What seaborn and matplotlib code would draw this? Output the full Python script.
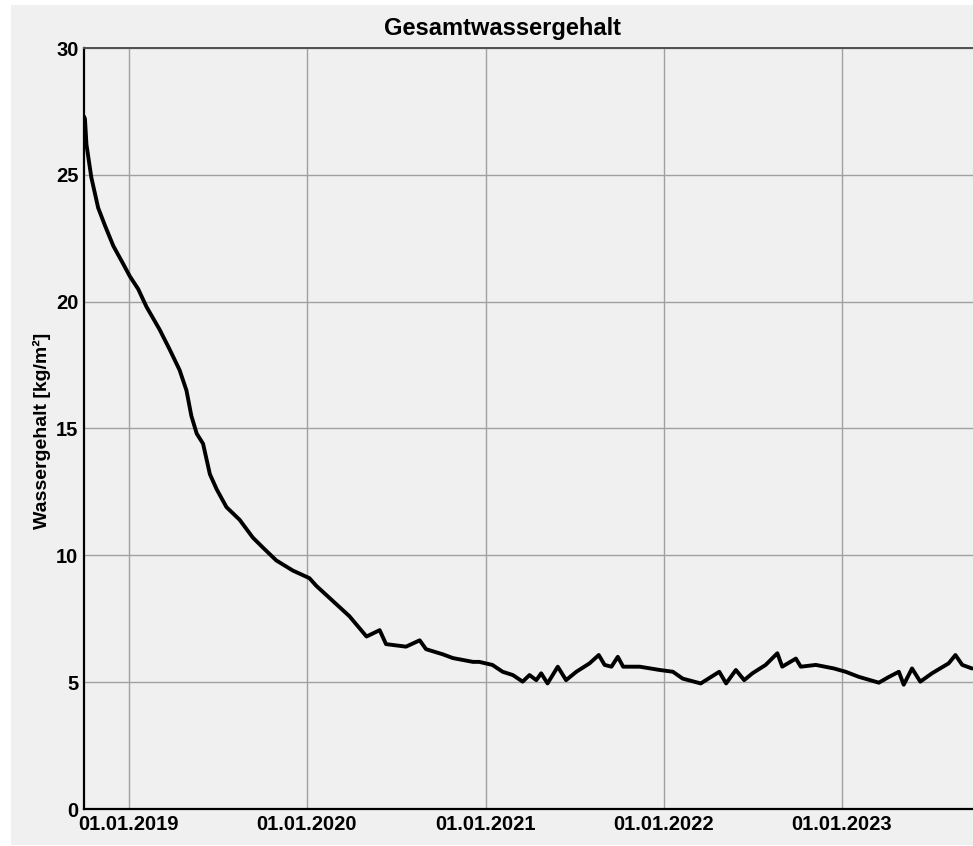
import matplotlib
matplotlib.use("Agg")
import matplotlib.dates as mdates
import matplotlib.pyplot as plt
import pandas as pd
import seaborn as sns
from matplotlib.patches import Rectangle

# values
dates = [
    "2018-10-01", "2018-10-03", "2018-10-06", "2018-10-16", "2018-10-30", "2018-11-13",
    "2018-11-30", "2018-12-20", "2019-01-03", "2019-01-20", "2019-02-06", "2019-03-05",
    "2019-03-26", "2019-04-15", "2019-04-29", "2019-05-09", "2019-05-20", "2019-06-02",
    "2019-06-16", "2019-06-30", "2019-07-20", "2019-08-16", "2019-09-12", "2019-10-03",
    "2019-10-30", "2019-12-03", "2020-01-06", "2020-01-20", "2020-02-23", "2020-03-28",
    "2020-05-02", "2020-05-29", "2020-06-11", "2020-07-22", "2020-08-19", "2020-09-01",
    "2020-10-05", "2020-10-26", "2020-12-06", "2020-12-19", "2021-01-15", "2021-02-05",
    "2021-02-26", "2021-03-18", "2021-04-01", "2021-04-15", "2021-04-25", "2021-05-08",
    "2021-05-29", "2021-06-15", "2021-07-06", "2021-08-02", "2021-08-21", "2021-09-02",
    "2021-09-16", "2021-09-29", "2021-10-10", "2021-11-13", "2021-12-24", "2022-01-20",
    "2022-02-09", "2022-03-18", "2022-04-25", "2022-05-09", "2022-05-29", "2022-06-15",
    "2022-07-02", "2022-07-29", "2022-08-22", "2022-09-01", "2022-09-29", "2022-10-09",
    "2022-11-09", "2022-12-16", "2023-01-09", "2023-02-05", "2023-03-18", "2023-04-08",
    "2023-04-28", "2023-05-08", "2023-05-25", "2023-06-11", "2023-07-05", "2023-08-08",
    "2023-08-22", "2023-09-05", "2023-09-25",
]
water_content = [
    27.3, 27.2, 26.2, 24.9, 23.7, 23.0,
    22.2, 21.5, 21.0, 20.5, 19.8, 18.9,
    18.1, 17.3, 16.5, 15.5, 14.8, 14.4,
    13.2, 12.6, 11.9, 11.4, 10.7, 10.3,
    9.8, 9.4, 9.1, 8.8, 8.2, 7.6,
    6.8, 7.05, 6.5, 6.4, 6.65, 6.3,
    6.1, 5.95, 5.8, 5.8, 5.68, 5.41,
    5.28, 5.02, 5.28, 5.08, 5.35, 4.95,
    5.61, 5.08, 5.41, 5.74, 6.07, 5.68,
    5.61, 6.0, 5.61, 5.61, 5.48, 5.41,
    5.14, 4.95, 5.41, 4.95, 5.48, 5.08,
    5.35, 5.68, 6.14, 5.61, 5.93, 5.61,
    5.68, 5.54, 5.41, 5.21, 4.98, 5.21,
    5.41, 4.9, 5.54, 5.02, 5.35, 5.74,
    6.07, 5.68, 5.54,
]
year_ticks = ["2019-01-01", "2020-01-01", "2021-01-01", "2022-01-01", "2023-01-01"]
y_ticks = [0, 5, 10, 15, 20, 25, 30]

df = pd.DataFrame({"Datum": pd.to_datetime(dates), "Wassergehalt": water_content})

sns.set_theme(style="white")
plt.rcParams["font.family"] = ["Liberation Sans", "DejaVu Sans"]
plt.rcParams["font.weight"] = "bold"
plt.rcParams["text.color"] = "black"
plt.rcParams["xtick.color"] = "black"
plt.rcParams["ytick.color"] = "black"

W, H = 973, 846
fig = plt.figure(figsize=(W / 100, H / 100), dpi=100, facecolor="white")
fig.patches.append(Rectangle((11 / W, 1 / H), 1 - 11 / W, (H - 6) / H, transform=fig.transFigure,
                             facecolor="#f0f0f0", edgecolor="none", zorder=-1))
ax = fig.add_axes([84 / W, 1 - 809 / H, 1 - 84 / W, (809 - 48) / H])
ax.set_facecolor("none")

sns.lineplot(data=df, x="Datum", y="Wassergehalt", color="black", linewidth=2.8, ax=ax, zorder=3)

ax.set_xlim(pd.Timestamp("2018-10-01"), pd.Timestamp("2023-09-27"))
ax.set_ylim(0, 30)
ax.set_yticks(y_ticks)
ax.set_xticks(pd.to_datetime(year_ticks))
ax.xaxis.set_major_formatter(mdates.DateFormatter("%d.%m.%Y"))
ax.grid(True, color="#a0a0a0", linewidth=1.0, zorder=0)
ax.set_axisbelow(True)
ax.set_xlabel("")
ax.set_ylabel("")
ax.tick_params(axis="both", length=3, width=1, pad=1, labelsize=14.5,
               color="#606060", labelcolor="black")
for lab in ax.get_xticklabels() + ax.get_yticklabels():
    lab.set_fontweight("bold")

for side in ["left", "bottom"]:
    ax.spines[side].set_color("black")
    ax.spines[side].set_linewidth(1.6)
ax.spines["top"].set_color("#505050")
ax.spines["top"].set_linewidth(1.4)
ax.spines["right"].set_visible(False)

fig.text(502.5 / W, 1 - 28 / H, "Gesamtwassergehalt", ha="center", va="center",
         fontsize=17, fontweight="bold", color="black")
fig.text(42 / W, 1 - 431 / H, "Wassergehalt [kg/m²]", ha="center", va="center",
         rotation=90, fontsize=14, fontweight="bold", color="black")

fig.savefig("out.png", dpi=100, facecolor=fig.get_facecolor())
